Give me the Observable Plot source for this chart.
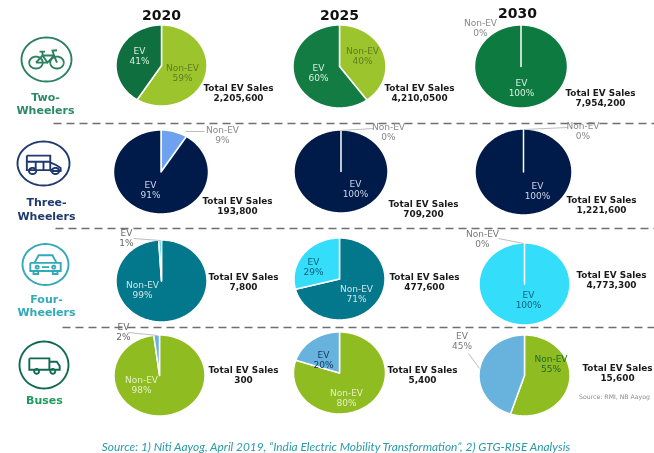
<!DOCTYPE html>
<html><head><meta charset="utf-8">
<script src="https://cdn.jsdelivr.net/npm/d3@7"></script>
<script src="https://cdn.jsdelivr.net/npm/@observablehq/plot@0.6"></script>
<style>html,body{margin:0;padding:0;background:#fff}svg{display:block;filter:blur(0.4px)}</style>
</head><body><div id="chart"></div>
<script>
// ---- data ----
const years = ["2020", "2025", "2030"];
const vehicles = [["Two-","Wheelers"],["Three-","Wheelers"],["Four-","Wheelers"],["Buses"]];
const nonEvShare = [[59,40,0],[9,0,0],[99,71,0],[98,80,55]];
const evShare = [[41,60,100],[91,100,100],[1,29,100],[2,20,45]];
const totalSales = [
  ["2,205,600","4,210,0500","7,954,200"],
  ["193,800","709,200","1,221,600"],
  ["7,800","477,600","4,773,300"],
  ["300","5,400","15,600"]];
const totalHeading = "Total EV Sales";
const sourceNote = "Source: RMI, NB Aayog";
const footer = "Source: 1) Niti Aayog, April 2019, \u201CIndia Electric Mobility Transformation\u201D, 2) GTG-RISE Analysis";

// ---- styles ----
const evColor = [["#0f6f3f","#127c42","#0d7a40"],["#001b4a","#001b4a","#001b4a"],["#34defa","#34defa","#34defa"],["#68b2de","#68b2de","#68b2de"]];
const nonEvColor = [["#9cc42c","#9cc42c","#9cc42c"],["#6ea2ee","#6ea2ee","#6ea2ee"],["#03778c","#03778c","#03778c"],["#8fbc20","#8fbc20","#8fbc20"]];
const vehicleColor = ["#2b8a63","#1f3a6e","#33a8b8","#1d9a5c"];
const iconColor = ["#2b8060","#1f3a6e","#33a8b8","#0f6a50"];

// ---- layout: one entry per pie (pixel frame) ----
const pieBox = [
  [[161,65,45.5,40.5],[339,66,46.5,41.5],[520.5,66,46.5,41.5]],
  [[160.5,171.5,47.5,42],[340.5,171,47,41.5],[523,171.5,48.5,43]],
  [[161,280.5,45.5,41],[339,278.5,45.5,41],[524,283.5,45.5,41]],
  [[159,375,45.5,40.5],[339,372.5,46,41],[524,375,45.5,40.5]]];
const evLabel = [
  [[139,55.5,"#d8efe0"],[318,72,"#d8efe0"],[521,87,"#d8efe0"]],
  [[150,189,"#ccd6e8"],[355,188,"#ccd6e8"],[537,190,"#ccd6e8"]],
  [[126,237,"#666666"],[313,266,"#0b5f78"],[528,299,"#0b5f78"]],
  [[123,331.5,"#666666"],[323,359,"#123c66"],[461.5,340.5,"#777777"]]];
const nonLabel = [
  [[182,72,"#5f7d22"],[362,55,"#5f7d22"],[480,27,"#888888"]],
  [[222,134,"#888888"],[388,131,"#888888"],[582.5,130.5,"#888888"]],
  [[142,289,"#cfe6ea"],[356,293.5,"#cfe6ea"],[482,238,"#777777"]],
  [[141,384,"#e4f0c4"],[346,397.5,"#e4f0c4"],[550.5,363,"#1c6b2e"]]];
const totalLabel = [
  [[238,92],[419,92],[600,97]],
  [[237,205.5],[423,208],[601,204]],
  [[243,281],[424,281],[611,279]],
  [[243,374],[422,374],[617,372]]];
const leaders = [
  [185,131,204,131],[340,130,373,128],[523,129,567,127],
  [160,240,133,238],[523,243,498,238],
  [157,335,128,332],[479,368,468,353]];
const yearLabel = [[161,15],[339,15],[517,13]];
const dividers = [[53,123],[55,228],[62,327]];
const vehicleLabelY = [[97,110],[202,216],[299,312],[400]];
const vehicleLabelX = [45,46,46,44];
const iconBox = [[46,59,25,22],[43,163,26,22],[45,264,23,20.5],[43.5,364.5,24.5,23.5]];

// ---- pie slices as closed outlines, angles from the shares ----
const slicePoints = [];
const pushSlice = (id, color, box, from, to) => {
  const [cx, cy, rx, ry] = box;
  slicePoints.push({id, color, x: cx, y: cy});
  const a0 = from * 3.6, a1 = to * 3.6, n = Math.max(1, Math.ceil(a1 - a0));
  for (let i = 0; i <= n; i++) {
    const a = (a0 + (a1 - a0) * i / n) * Math.PI / 180;
    slicePoints.push({id, color, x: cx + rx * Math.sin(a), y: cy - ry * Math.cos(a)});
  }
  slicePoints.push({id, color, x: cx, y: cy});
};
vehicles.forEach((_, r) => years.forEach((_, c) => {
  pushSlice(`n${r}${c}`, nonEvColor[r][c], pieBox[r][c], 0, nonEvShare[r][c]);
  pushSlice(`e${r}${c}`, evColor[r][c], pieBox[r][c], nonEvShare[r][c], 100);
}));

const labels = [];
const totals = [];
vehicles.forEach((_, r) => years.forEach((_, c) => {
  const [ex, ey, ec] = evLabel[r][c], [nx, ny, nc] = nonLabel[r][c], [tx, ty] = totalLabel[r][c];
  labels.push({x: ex, y: ey, fill: ec, text: `EV\n${evShare[r][c]}%`});
  labels.push({x: nx, y: ny, fill: nc, text: `Non-EV\n${nonEvShare[r][c]}%`});
  totals.push({x: tx, y: ty, text: `${totalHeading}\n${totalSales[r][c]}`});
}));

// ---- vehicle icons as Plot.dot symbols ----
const iconShapes = [
  { // bicycle
    circles: [[-0.42,0.14,0.27],[0.42,0.14,0.27]],
    lines: [[[-0.42,0.14],[-0.16,-0.18],[0.3,-0.18],[0.42,0.14]],[[-0.16,-0.18],[0.04,0.14],[0.3,-0.18]],[[-0.42,0.14],[0.04,0.14]],
            [[-0.28,-0.36],[-0.06,-0.36]],[[-0.16,-0.36],[-0.16,-0.18]],[[0.3,-0.18],[0.24,-0.4],[0.42,-0.42]]]
  },
  { // three-wheeler
    circles: [[-0.42,0.34,0.14],[0.46,0.34,0.14]],
    lines: [[[-0.64,-0.36],[0.26,-0.36],[0.26,0.3],[-0.64,0.3],[-0.64,-0.36]],
            [[-0.64,-0.08],[0.26,-0.08]],[[-0.3,-0.08],[-0.3,0.3]],[[0,-0.08],[0,0.3]],
            [[0.26,-0.05],[0.5,0.08],[0.66,0.2],[0.66,0.34],[0.26,0.34]]]
  },
  { // car
    circles: [[-0.36,0.13,0.07],[0.36,0.13,0.07]],
    lines: [[[-0.48,-0.08],[-0.3,-0.45],[0.3,-0.45],[0.48,-0.08]],
            [[-0.66,-0.08],[0.66,-0.08],[0.66,0.32],[-0.66,0.32],[-0.66,-0.08]],
            [[-0.16,0.13],[0.16,0.13]],[[-0.52,0.32],[-0.52,0.46],[-0.32,0.46],[-0.32,0.32]],[[0.32,0.32],[0.32,0.46],[0.52,0.46],[0.52,0.32]]]
  },
  { // truck
    circles: [[-0.3,0.27,0.1],[0.36,0.27,0.1]],
    lines: [[[-0.6,-0.28],[0.22,-0.28],[0.22,0.2],[-0.6,0.2],[-0.6,-0.28]],
            [[0.22,-0.14],[0.52,-0.14],[0.64,0.04],[0.64,0.2],[0.22,0.2]]]
  }
];
const iconSymbol = (shape, sx, sy) => ({
  draw(ctx, size) {
    const u = Math.sqrt(size / Math.PI);
    const ring = (x0, y0, r) => {
      for (let i = 0; i <= 64; i++) {
        const a = i / 64 * 2 * Math.PI;
        const px = (x0 + r * Math.cos(a)) * u * sx, py = (y0 + r * Math.sin(a)) * u * sy;
        i ? ctx.lineTo(px, py) : ctx.moveTo(px, py);
      }
    };
    ring(0, 0, 1);
    shape.circles.forEach(([x, y, r]) => ring(x, y, r));
    shape.lines.forEach(l => l.forEach(([x, y], i) => i ? ctx.lineTo(x*u*sx, y*u*sy) : ctx.moveTo(x*u*sx, y*u*sy)));
  }
});

const ruleData = dividers.map(([x1, y]) => ({x1, x2: 654, y}));
const vehicleText = vehicles.flatMap((lines, r) => lines.map((t, i) => ({t, x: vehicleLabelX[r], y: vehicleLabelY[r][i], fill: vehicleColor[r]})));

const font = "'DejaVu Sans', sans-serif";
const chart = Plot.plot({
  width: 654, height: 453,
  margin: 0,
  x: {domain: [0, 654], range: [0, 654], axis: null},
  y: {domain: [0, 453], range: [0, 453], axis: null},
  color: {type: "identity"},
  style: {background: "#fff", fontFamily: font},
  marks: [
    Plot.line(slicePoints, {x: "x", y: "y", z: "id", fill: "color", stroke: "#fff", strokeWidth: 1.5, strokeLinejoin: "round"}),
    Plot.link(ruleData, {x1: "x1", x2: "x2", y1: "y", y2: "y", stroke: "#6f6f6f", strokeWidth: 1.5, strokeDasharray: "8,5"}),
    Plot.link(leaders, {x1: d => d[0], y1: d => d[1], x2: d => d[2], y2: d => d[3], stroke: "#bdbdbd", strokeWidth: 1}),
    ...iconBox.map(([x, y, rx, ry], r) => Plot.dot([{x, y}], {
      x: "x", y: "y", r: 23, symbol: iconSymbol(iconShapes[r], rx / 23, ry / 23),
      stroke: iconColor[r], fill: "none", strokeWidth: 1.9
    })),
    Plot.text(labels, {x: "x", y: "y", text: "text", fill: "fill", fontSize: 9, lineHeight: 1.12, fontFamily: font}),
    Plot.text(totals, {x: "x", y: "y", text: "text", fill: "#1a1a1a", fontSize: 8.9, fontWeight: "bold", lineHeight: 1.14, fontFamily: font}),
    Plot.text(years.map((t, i) => ({t, x: yearLabel[i][0], y: yearLabel[i][1]})), {x: "x", y: "y", text: "t", fill: "#111", fontSize: 14, fontWeight: "bold", fontFamily: font}),
    Plot.text(vehicleText, {x: "x", y: "y", text: "t", fill: "fill", fontSize: 11, fontWeight: "bold", fontFamily: font}),
    Plot.text([sourceNote], {x: () => 614, y: () => 397, text: d => d, fill: "#8a8a8a", fontSize: 6.2, fontFamily: font}),
    Plot.text([footer], {x: () => 335.5, y: () => 447, text: d => d, fill: "#2a9aa8", fontSize: 11.9, fontStyle: "italic", fontFamily: "Lato, sans-serif"})
  ]
});
document.getElementById("chart").append(chart);
</script></body></html>
